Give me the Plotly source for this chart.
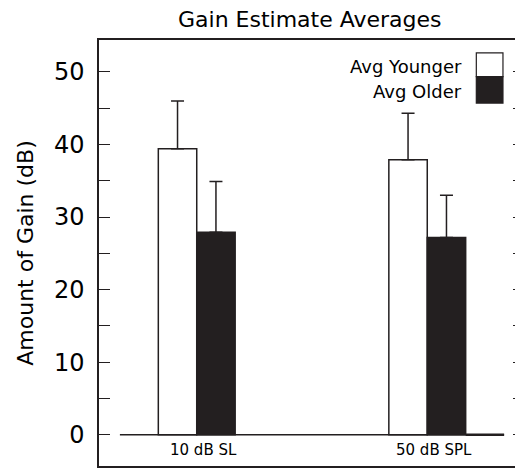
import plotly.graph_objects as go

categories = ["10 dB SL", "50 dB SPL"]
series_names = ["Avg Younger", "Avg Older"]
younger = [39.4, 37.9]
younger_err = [6.6, 6.4]
older = [27.9, 27.2]
older_err = [7.0, 5.8]
yticks = [0, 10, 20, 30, 40, 50]

FONT = "DejaVu Sans"
DARK = "#231f20"
pos = [0, 1]
w = 1 / 6  # width of one bar in category units

fig = go.Figure()
fig.add_trace(go.Bar(
    x=pos, y=younger, width=w, offset=-w, name=series_names[0],
    marker=dict(color="white", line=dict(color=DARK, width=1.5)),
    error_y=dict(type="data", symmetric=False, array=younger_err,
                 arrayminus=[0, 0], color=DARK, thickness=1.5, width=6.5),
    showlegend=False,
))
fig.add_trace(go.Bar(
    x=pos, y=older, width=w, offset=0, name=series_names[1],
    marker=dict(color=DARK, line=dict(color=DARK, width=1.5)),
    error_y=dict(type="data", symmetric=False, array=older_err,
                 arrayminus=[0, 0], color=DARK, thickness=1.5, width=6.5),
    showlegend=False,
))
# invisible trace on the right-hand axis so its ticks are drawn
fig.add_trace(go.Scatter(x=pos, y=younger, yaxis="y2", mode="markers",
                         marker=dict(opacity=0), hoverinfo="skip", showlegend=False))

# baseline spanning the bar slots
fig.add_shape(type="line", xref="x", yref="y", x0=pos[0] - 2 * w, x1=pos[-1] + 2 * w,
              y0=0, y1=0, line=dict(color=DARK, width=1.6), layer="above")
fig.add_shape(type="line", xref="x", yref="y", x0=pos[-1] + w, x1=pos[-1] + 2 * w,
              y0=0, y1=0, line=dict(color=DARK, width=2.6), layer="above")

# category labels under the baseline
for p, c in zip(pos, categories):
    fig.add_annotation(xref="x", yref="y", x=p, y=0, text=c, showarrow=False,
                       xanchor="center", yanchor="middle", xshift=7, yshift=-15,
                       font=dict(family=FONT, size=15, color="black"))

# legend drawn as boxes + labels
fig.add_shape(type="rect", xref="paper", yref="paper", x0=0.892, x1=0.955,
              y0=0.914, y1=0.970, line=dict(color=DARK, width=1.2), fillcolor="white")
fig.add_shape(type="rect", xref="paper", yref="paper", x0=0.892, x1=0.955,
              y0=0.852, y1=0.914, line=dict(color=DARK, width=1.2), fillcolor=DARK)
fig.add_annotation(xref="paper", yref="paper", x=0.862, y=0.937, text=series_names[0],
                   showarrow=False, xanchor="right", yanchor="middle",
                   font=dict(family=FONT, size=18, color="black"))
fig.add_annotation(xref="paper", yref="paper", x=0.862, y=0.879, text=series_names[1],
                   showarrow=False, xanchor="right", yanchor="middle",
                   font=dict(family=FONT, size=18, color="black"))

yrange = [-4.3, 54.4]
fig.update_layout(
    width=515, height=460,
    margin=dict(l=91, r=1, t=32, b=2, autoexpand=False),
    paper_bgcolor="white", plot_bgcolor="white",
    title=dict(text="Gain Estimate Averages", x=0.586, xanchor="center",
               y=0.975, yanchor="middle",
               font=dict(family=FONT, size=22, color="black")),
    barmode="overlay",
    showlegend=False,
    xaxis=dict(
        range=[-0.424, 1.411], showticklabels=False, automargin=False,
        ticks="", showgrid=False, zeroline=False, showline=True, mirror=True,
        linecolor=DARK, linewidth=1.5,
    ),
    yaxis=dict(
        range=yrange, tickmode="array", tickvals=yticks, automargin=False,
        ticks="inside", ticklen=11, tickwidth=1.2, tickcolor=DARK,
        minor=dict(dtick=5, tick0=0, ticks="inside", ticklen=11, tickwidth=1.2, tickcolor=DARK),
        showgrid=False, zeroline=False, showline=True, mirror=False,
        linecolor=DARK, linewidth=1.5, ticklabelstandoff=8,
        tickfont=dict(family=FONT, size=24, color="black"),
        title=dict(text="Amount of Gain (dB)", font=dict(family=FONT, size=22, color="black"),
                   standoff=14),
    ),
    yaxis2=dict(
        range=yrange, overlaying="y", side="right", tickmode="array", tickvals=yticks,
        automargin=False, showticklabels=False,
        ticks="inside", ticklen=9, tickwidth=1.2, tickcolor=DARK,
        minor=dict(dtick=5, tick0=0, ticks="inside", ticklen=9, tickwidth=1.2, tickcolor=DARK),
        showgrid=False, zeroline=False, showline=False,
    ),
)

fig.write_html("out.html")
